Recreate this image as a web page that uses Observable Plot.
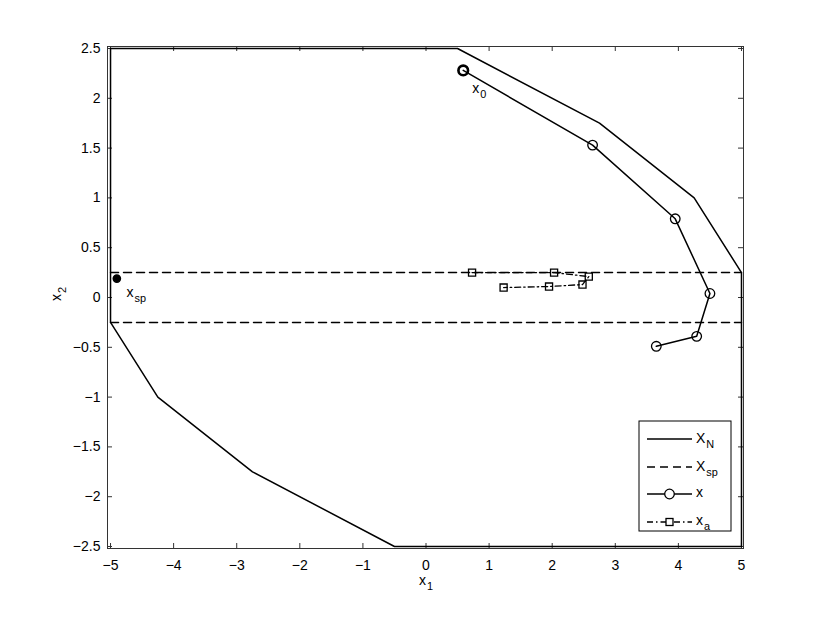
<!DOCTYPE html>
<html>
<head>
<meta charset="utf-8">
<script src="https://cdn.jsdelivr.net/npm/d3@7"></script>
<script src="https://cdn.jsdelivr.net/npm/@observablehq/plot@0.6"></script>
<style>
  html, body { margin: 0; padding: 0; background: #fff; }
  #chart { width: 822px; height: 617px; }
</style>
</head>
<body>
<div id="chart"></div>
<script>
// ---------- data ----------
const xTicks = [-5, -4, -3, -2, -1, 0, 1, 2, 3, 4, 5];
const yTicks = [-2.5, -2, -1.5, -1, -0.5, 0, 0.5, 1, 1.5, 2, 2.5];

// feasible set X_N (polygon vertices)
const polyX1 = [-5, 0.5, 2.75, 4.25, 5, 5, -0.5, -2.75, -4.25, -5, -5];
const polyX2 = [2.5, 2.5, 1.75, 1.0, 0.25, -2.5, -2.5, -1.75, -1.0, -0.25, 2.5];

// X_sp band (two dashed boundaries)
const spBandX1 = [-5, 5];
const spBandLevels = [0.25, -0.25];

// closed-loop trajectory x
const trajX1 = [0.59, 2.64, 3.95, 4.50, 4.29, 3.65];
const trajX2 = [2.28, 1.53, 0.79, 0.04, -0.39, -0.49];

// artificial reference x_a
const refX1 = [0.73, 2.03, 2.58, 2.48, 1.95, 1.23];
const refX2 = [0.25, 0.25, 0.21, 0.13, 0.11, 0.10];

// set point x_sp
const spPoint = [{x: -4.9, y: 0.19}];

// annotation anchors
const labelX0 = {x: 0.74, y: 2.05, main: "x", sub: "0"};
const labelXsp = {x: -4.74, y: 0.0, main: "x", sub: "sp"};

// ---------- tables ----------
const polygon = polyX1.map((x, i) => ({x, y: polyX2[i]}));
const spLines = spBandLevels.flatMap((lev, k) => spBandX1.map(x => ({x, y: lev, k})));
const traj = trajX1.map((x, i) => ({x, y: trajX2[i]}));
const ref = refX1.map((x, i) => ({x, y: refX2[i]}));

const W = 822, Hh = 617;
const mL = 107, mR = 79, mT = 46, mB = 69;
const innerW = W - mL - mR, innerH = Hh - mT - mB;
const tickLen = 5;
const FONT = "'Liberation Sans', Arial, Helvetica, sans-serif";
const fmt = d => String(d).replace("-", "\u2212");
const DASH = "8,5";
const DASHDOT = "6,3,1.5,3";

const chart = Plot.plot({
  width: W, height: Hh,
  marginLeft: mL, marginRight: mR, marginTop: mT, marginBottom: mB,
  x: {domain: [-5.048, 5.032]},
  y: {domain: [-2.52, 2.52]},
  style: {fontFamily: FONT, fontSize: "14px", background: "#fff", color: "#000"},
  marks: [
    // inward ticks on all four sides
    Plot.ruleX(xTicks, {insetTop: innerH - tickLen, stroke: "#333", strokeWidth: 1}),
    Plot.ruleX(xTicks, {insetBottom: innerH - tickLen, stroke: "#333", strokeWidth: 1}),
    Plot.ruleY(yTicks, {insetRight: innerW - tickLen, stroke: "#333", strokeWidth: 1}),
    Plot.ruleY(yTicks, {insetLeft: innerW - tickLen, stroke: "#333", strokeWidth: 1}),
    Plot.axisX(xTicks, {anchor: "bottom", tickSize: 0, tickPadding: 12, tickFormat: fmt, label: null, fontSize: 14}),
    Plot.axisY(yTicks, {anchor: "left", tickSize: 0, tickPadding: 7, tickFormat: fmt, label: null, fontSize: 14}),
    // X_N polygon
    Plot.line(polygon, {x: "x", y: "y", stroke: "#000", strokeWidth: 1.5}),
    // X_sp band
    Plot.line(spLines, {x: "x", y: "y", z: "k", stroke: "#000", strokeWidth: 1.5, strokeDasharray: DASH}),
    // trajectory x
    Plot.line(traj, {x: "x", y: "y", stroke: "#000", strokeWidth: 1.5}),
    Plot.dot(traj, {x: "x", y: "y", r: 4.8, stroke: "#000", fill: "none", strokeWidth: 1.3}),
    Plot.dot(traj.slice(0, 1), {x: "x", y: "y", r: 4.8, stroke: "#000", fill: "none", strokeWidth: 2.6}),
    // artificial reference x_a
    Plot.line(ref, {x: "x", y: "y", stroke: "#000", strokeWidth: 1.3, strokeDasharray: DASHDOT}),
    Plot.dot(ref, {x: "x", y: "y", symbol: "square", r: 4, stroke: "#000", fill: "none", strokeWidth: 1.3}),
    // set point
    Plot.dot(spPoint, {x: "x", y: "y", r: 3.6, fill: "#000", stroke: "#000"}),
    Plot.frame({stroke: "#333", strokeWidth: 1})
  ]
});

const svg = d3.select(chart);
const sx = chart.scale("x"), sy = chart.scale("y");

function subText(g, x, y, main, sub, opts = {}) {
  const size = opts.size || 14;
  const t = g.append("text")
    .attr("x", x).attr("y", y)
    .attr("font-family", FONT)
    .attr("font-size", size)
    .attr("fill", "#000")
    .attr("text-anchor", opts.anchor || "start");
  if (opts.rotate) t.attr("transform", `rotate(-90 ${x} ${y})`);
  t.append("tspan").text(main);
  if (sub) t.append("tspan").attr("font-size", size * 0.78).attr("dy", size * 0.38).attr("dx", 1).text(sub);
  return t;
}

const ann = svg.append("g");
subText(ann, sx.apply(labelX0.x), sy.apply(labelX0.y), labelX0.main, labelX0.sub);
subText(ann, sx.apply(labelXsp.x), sy.apply(labelXsp.y), labelXsp.main, labelXsp.sub);
// axis labels
subText(ann, 426, 585, "x", "1", {anchor: "middle"});
subText(ann, 61, 294, "x", "2", {rotate: true, anchor: "middle"});

// ---------- legend ----------
const lg = svg.append("g");
const lx0 = 639, ly0 = 421, lw = 92, lh = 110;
lg.append("rect").attr("x", lx0).attr("y", ly0).attr("width", lw).attr("height", lh)
  .attr("fill", "#fff").attr("stroke", "#000").attr("stroke-width", 1);
const rows = [
  {y: 439, dash: null, marker: null, main: "X", sub: "N"},
  {y: 467, dash: DASH, marker: null, main: "X", sub: "sp"},
  {y: 494, dash: null, marker: "circle", main: "x", sub: ""},
  {y: 522, dash: DASHDOT, marker: "square", main: "x", sub: "a"}
];
const la = 647, lb = 692;
rows.forEach(r => {
  lg.append("line").attr("x1", la).attr("x2", lb).attr("y1", r.y).attr("y2", r.y)
    .attr("stroke", "#000").attr("stroke-width", 1.5)
    .attr("stroke-dasharray", r.dash);
  const cx = (la + lb) / 2;
  if (r.marker === "circle") {
    lg.append("circle").attr("cx", cx).attr("cy", r.y).attr("r", 4.8)
      .attr("fill", "#fff").attr("stroke", "#000").attr("stroke-width", 1.3);
  } else if (r.marker === "square") {
    lg.append("rect").attr("x", cx - 3.5).attr("y", r.y - 3.5).attr("width", 7).attr("height", 7)
      .attr("fill", "#fff").attr("stroke", "#000").attr("stroke-width", 1.3);
  }
  subText(lg, 696, r.y + (r.main === "X" ? 4 : 3), r.main, r.sub);
});

document.getElementById("chart").appendChild(chart);
</script>
</body>
</html>
